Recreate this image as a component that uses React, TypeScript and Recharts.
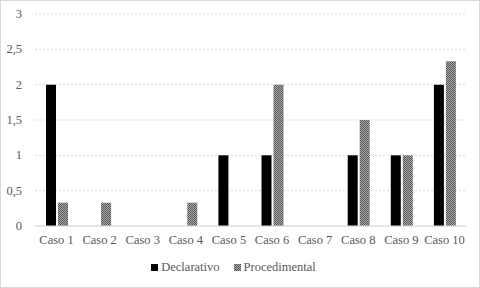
import { BarChart, Bar, XAxis, YAxis, CartesianGrid, Legend } from 'recharts';

const casos = ['Caso 1', 'Caso 2', 'Caso 3', 'Caso 4', 'Caso 5', 'Caso 6', 'Caso 7', 'Caso 8', 'Caso 9', 'Caso 10'];
const declarativo = [2, 0, 0, 0, 1, 1, 0, 1, 1, 2];
const procedimental = [0.33, 0.33, 0, 0.33, 0, 2, 0, 1.5, 1, 2.33];
const yTicks = [0, 0.5, 1, 1.5, 2, 2.5, 3];

const FONT = '"Liberation Serif", "Times New Roman", serif';
const TXT = '#595959';
const FS = 12.5;

const XTick = (props: any) => {
  const { x, y, payload } = props;
  return (
    <text x={x} y={y} dy={8} textAnchor="middle" fill={TXT} style={{ fontSize: FS, fontFamily: FONT }}>
      {payload.value}
    </text>
  );
};

const YTick = (props: any) => {
  const { x, y, payload } = props;
  return (
    <text x={x} y={y} dy={4} textAnchor="end" fill={TXT} style={{ fontSize: FS, fontFamily: FONT }}>
      {String(payload.value).replace('.', ',')}
    </text>
  );
};

const Leyenda = () => (
  <div style={{ display: 'flex', justifyContent: 'center', gap: 14, fontFamily: FONT, fontSize: FS, color: TXT }}>
    <span style={{ display: 'flex', alignItems: 'center', gap: 3 }}>
      <svg width={7} height={7}><rect width={7} height={7} fill="#000" /></svg>
      Declarativo
    </span>
    <span style={{ display: 'flex', alignItems: 'center', gap: 3 }}>
      <svg width={7} height={7}><rect width={7} height={7} fill="url(#gris)" /></svg>
      Procedimental
    </span>
  </div>
);

export default function App() {
  const data = casos.map((caso, i) => ({
    caso,
    Declarativo: declarativo[i],
    Procedimental: procedimental[i],
  }));

  return (
    <div
      style={{
        position: 'absolute',
        left: 0,
        top: 0,
        width: 480,
        height: 288,
        boxSizing: 'border-box',
        border: '1px solid #d9d9d9',
        background: '#fff',
        fontFamily: FONT,
      }}
    >
      <svg width={0} height={0} style={{ position: 'absolute' }}>
        <defs>
          <pattern id="gris" width={2} height={2} patternUnits="userSpaceOnUse">
            <rect width={2} height={2} fill="#a6a6a6" />
            <rect width={1} height={1} fill="#595959" />
            <rect x={1} y={1} width={1} height={1} fill="#595959" />
          </pattern>
        </defs>
      </svg>
      <BarChart
        width={478}
        height={286}
        data={data}
        margin={{ top: 13, right: 13, left: 0, bottom: 16 }}
        barSize={10}
        barGap={2}
      >
        <CartesianGrid vertical={false} stroke="#d9d9d9" strokeDasharray="2 2" />
        <XAxis
          dataKey="caso"
          tickLine={false}
          axisLine={{ stroke: '#d9d9d9' }}
          tick={<XTick />}
          tickMargin={4}
          height={30}
          interval={0}
        />
        <YAxis
          domain={[0, 3]}
          ticks={yTicks}
          width={34}
          tickLine={false}
          axisLine={false}
          tickMargin={7}
          tick={<YTick />}
        />
        <Legend verticalAlign="bottom" content={<Leyenda />} wrapperStyle={{ bottom: 12 }} />
        <Bar dataKey="Declarativo" fill="#000000" isAnimationActive={false} />
        <Bar dataKey="Procedimental" fill="url(#gris)" isAnimationActive={false} />
      </BarChart>
    </div>
  );
}
